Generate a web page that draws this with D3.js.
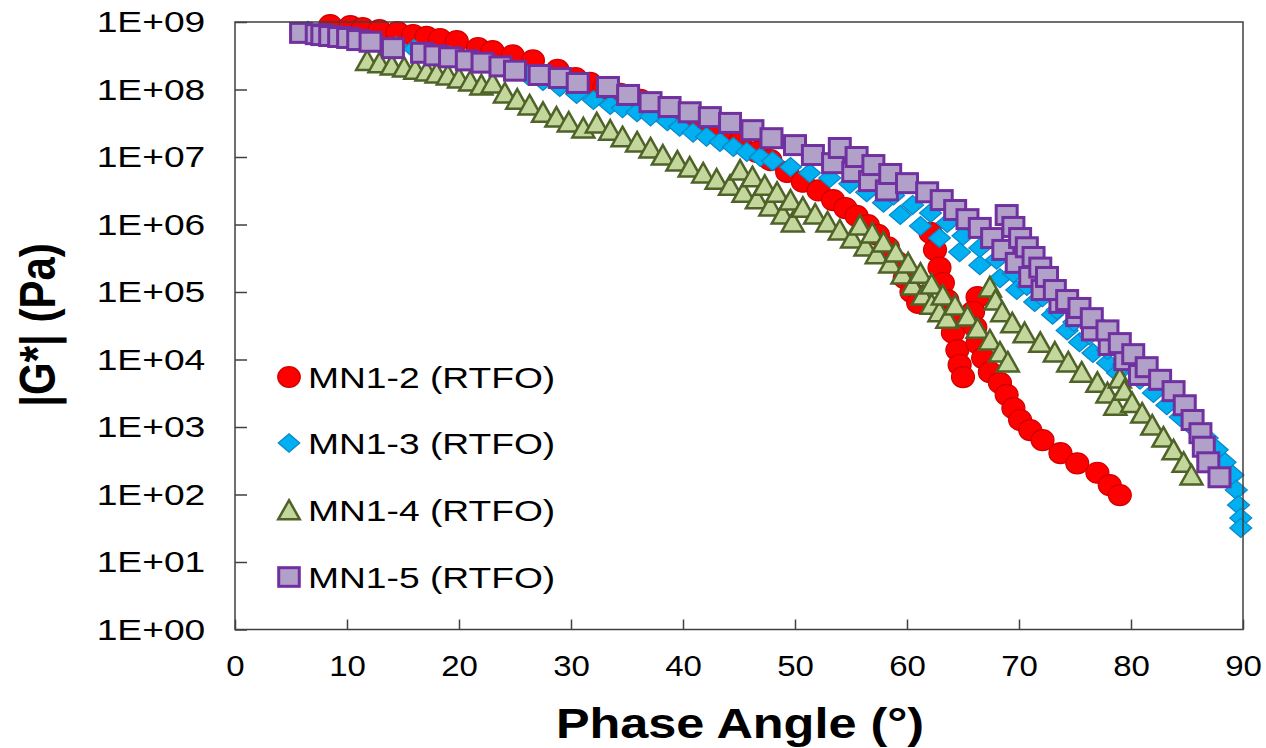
<!DOCTYPE html>
<html>
<head>
<meta charset="utf-8">
<script src="https://cdn.jsdelivr.net/npm/d3@7"></script>
<style>
  html, body { margin: 0; padding: 0; background: #ffffff; }
  svg { display: block; }
  text { font-family: "Liberation Sans", Arial, sans-serif; fill: #000; }
</style>
</head>
<body>
<svg id="chart" width="1266" height="748"></svg>
<script>
// Phase angle (degrees) and |G*| (Pa) pairs, one array per binder
const mn12Points = [
  [8.5,9.0e8],[10.3,8.7e8],[11.4,8.1e8],[12.9,7.6e8],[14.5,7.1e8],[15.9,6.4e8],[17.1,6.0e8],[18.3,5.6e8],
  [19.8,5.2e8],[21.7,4.1e8],[23.0,3.7e8],[24.8,3.2e8],[26.6,2.7e8],[28.8,1.95e8],[30.4,1.48e8],[31.7,1.25e8],
  [33.0,1.05e8],[34.4,8.6e7],[36.2,7.0e7],[37.9,5.3e7],[39.7,4.0e7],[41.5,3.1e7],[43.3,2.3e7],[45.1,1.67e7],
  [46.6,1.19e7],[47.8,9.0e6],[49.3,6.0e6],[50.7,4.3e6],[52.1,3.2e6],[53.4,2.3e6],[54.5,1.75e6],[55.5,1.34e6],
  [56.5,9.8e5],[57.4,7.0e5],[58.3,4.6e5],[59.1,2.8e5],[59.8,1.6e5],[60.4,1.0e5],[61.0,6.9e4],
  [62.1,7.5e5],[62.5,4.2e5],[62.9,2.3e5],[63.2,1.36e5],[63.6,7.6e4],[63.8,4.3e4],[64.1,2.5e4],[64.5,1.38e4],
  [64.7,8.3e3],[65.0,5.5e3],
  [66.3,8.4e4],[65.9,5.1e4],[66.1,3.0e4],[66.3,1.75e4],[66.8,1.05e4],[67.4,6.5e3],[68.3,4.5e3],[68.9,3.0e3],
  [69.5,1.9e3],[70.1,1.27e3],[71.0,9.0e2],[72.1,6.4e2],[73.7,4.1e2],[75.2,2.9e2],[77.0,2.1e2],[78.1,1.38e2],[79.0,98]
];

const mn13Points = [
  [6.5,7.4e8],[8.0,6.6e8],[9.6,6.0e8],[11.2,5.4e8],[12.8,4.9e8],[14.4,4.4e8],[16.0,4.0e8],[17.6,3.6e8],
  [19.2,3.2e8],[20.8,2.8e8],[22.4,2.5e8],[23.9,2.15e8],[25.3,1.88e8],[26.1,1.64e8],[27.5,1.34e8],[29.0,1.09e8],
  [30.5,8.6e7],[32.0,7.0e7],[33.5,5.9e7],[34.6,5.3e7],[35.9,4.6e7],[37.1,4.0e7],[38.6,3.4e7],[39.7,2.8e7],
  [40.9,2.3e7],[42.1,2.0e7],[43.3,1.67e7],[44.5,1.41e7],[45.7,1.19e7],[46.9,1.0e7],[48.0,8.7e6],[49.6,7.1e6],
  [51.3,5.8e6],[53.1,4.9e6],[54.9,4.0e6],[56.4,3.0e6],[57.9,2.1e6],[59.4,1.38e6],[61.2,9.5e5],[62.9,6.3e5],
  [64.7,3.9e5],[66.5,2.5e5],[68.3,1.6e5],[69.8,1.07e5],[71.4,7.1e4],[73.0,4.6e4],[74.3,2.7e4],[75.4,1.8e4],
  [76.6,1.25e4],[77.9,8.9e3],[78.8,6.3e3],
  [58.8,2.7e6],[60.5,1.95e6],[62.1,1.48e6],[63.6,1.05e6],[65.0,6.8e5],[66.5,4.5e5],[68.0,3.0e5],[69.5,1.9e5],
  [70.7,1.23e5],[72.1,8.4e4],[73.4,5.4e4],[74.9,3.6e4],[76.3,2.3e4],[77.9,1.38e4],[79.3,8.3e3],[80.8,5.0e3],
  [82.0,3.2e3],[83.2,2.1e3],[84.4,1.41e3],[85.5,1.0e3],[86.8,6.9e2],[87.7,4.6e2],[88.4,3.0e2],[89.1,1.95e2],
  [89.4,1.17e2],[89.6,70],[89.8,45],[89.8,32]
];

const mn14Points = [
  [11.8,2.7e8],[12.9,2.5e8],[14.0,2.3e8],[15.1,2.15e8],[16.1,2.0e8],[17.1,1.88e8],[18.0,1.75e8],[19.0,1.64e8],
  [20.0,1.48e8],[21.0,1.34e8],[22.0,1.17e8],
  [23.0,1.25e8],[24.1,8.9e7],[25.2,7.2e7],[26.3,5.9e7],[27.5,4.6e7],[28.7,3.9e7],[29.8,3.3e7],[31.1,2.7e7],
  [32.3,3.2e7],[33.5,2.5e7],[34.6,2.0e7],[35.9,1.67e7],[37.1,1.36e7],[38.2,1.07e7],[39.5,8.7e6],[40.6,7.1e6],
  [41.8,5.8e6],[43.0,4.7e6],[44.2,3.8e6],[45.4,3.0e6],[46.6,2.4e6],[47.8,1.88e6],[48.9,1.43e6],[49.8,1.09e6],
  [45.1,6.4e6],[46.2,5.1e6],[47.3,3.8e6],[48.4,3.0e6],[49.6,2.3e6],[50.7,1.8e6],[51.8,1.43e6],[52.9,1.09e6],
  [54.0,8.3e5],[55.1,6.3e5],[56.3,4.8e5],[57.3,3.7e5],[58.5,2.7e5],[59.6,1.85e5],[60.5,1.27e5],[61.4,9.0e4],
  [62.2,6.6e4],[62.9,5.1e4],[63.6,4.1e4],
  [55.8,9.8e5],[56.9,7.5e5],[57.9,5.5e5],[59.0,3.9e5],[60.1,2.7e5],[61.2,1.9e5],[62.2,1.31e5],[63.2,9.0e4],
  [64.3,6.4e4],[65.4,4.4e4],[66.3,2.9e4],[67.4,1.95e4],[68.3,1.29e4],[69.0,9.2e3],
  [67.4,1.19e5],[67.9,7.6e4],[68.5,5.1e4],[69.4,3.5e4],[70.5,2.5e4],[71.9,1.8e4],[73.2,1.29e4],[74.4,9.2e3],
  [75.6,6.5e3],[77.0,4.6e3],[77.9,3.2e3],[78.6,2.1e3],
  [79.0,5.3e3],[79.4,3.5e3],[80.1,2.3e3],[81.0,1.61e3],[81.9,1.07e3],[82.9,7.1e2],[83.8,4.6e2],[84.7,3.0e2],
  [85.4,1.95e2]
];

const mn15Points = [
  [5.9,6.9e8],[7.3,6.6e8],[7.8,6.4e8],[8.5,6.2e8],[9.3,6.0e8],[10.1,5.8e8],[11.0,5.4e8],[12.1,5.1e8],
  [14.1,4.1e8],[16.7,3.5e8],[17.9,3.2e8],[19.2,3.0e8],[20.7,2.7e8],[22.1,2.5e8],[23.7,2.2e8],[25.0,1.9e8],
  [27.2,1.64e8],[29.0,1.48e8],[30.6,1.25e8],
  [33.3,1.09e8],[35.1,8.3e7],[37.1,6.5e7],[38.8,5.5e7],[40.6,4.6e7],[42.4,3.9e7],[44.2,3.2e7],[46.2,2.5e7],
  [47.9,1.9e7],[50.0,1.5e7],[51.6,1.07e7],[53.4,8.1e6],[55.2,6.0e6],[56.7,4.4e6],[58.2,3.2e6],
  [54.0,1.36e7],[55.5,1.0e7],[57.0,7.6e6],[58.5,5.6e6],[60.0,4.1e6],[61.8,3.0e6],[63.1,2.3e6],[64.3,1.64e6],
  [65.4,1.2e6],[66.5,8.9e5],[67.6,6.3e5],[68.6,4.2e5],[69.8,2.7e5],[71.0,1.67e5],[72.1,1.07e5],[73.7,6.9e4],
  [75.2,4.4e4],[76.6,2.7e4],[78.1,1.64e4],[79.5,9.8e3],[80.8,5.9e3],
  [68.9,1.38e6],[69.5,9.2e5],[70.1,6.3e5],[70.7,4.6e5],[71.3,3.3e5],[71.9,2.3e5],[72.5,1.67e5],[73.2,1.07e5],
  [74.3,7.6e4],[75.4,5.8e4],[76.5,4.1e4],[77.9,2.7e4],[79.0,1.75e4],[80.2,1.2e4],[81.4,7.7e3],[82.6,5.0e3],
  [83.8,3.4e3],[84.8,2.1e3],[85.5,1.27e3],[86.2,8.1e2],[86.5,5.1e2],[86.9,3.0e2],[87.9,1.8e2]
];

const seriesNames = ["MN1-2 (RTFO)", "MN1-3 (RTFO)", "MN1-4 (RTFO)", "MN1-5 (RTFO)"];
const angleTicks = [0, 10, 20, 30, 40, 50, 60, 70, 80, 90];
const modulusTicks = [1e0, 1e1, 1e2, 1e3, 1e4, 1e5, 1e6, 1e7, 1e8, 1e9];
const xTitle = "Phase Angle (°)";
const yTitle = "|G*| (Pa)";

// ---- layout ----
const plot = { left: 235, right: 1243, top: 22, bottom: 629.5 };
const stretch = 1.2;     // titles are drawn slightly wide
const labelStretch = 1.24; // y tick labels and legend entries
const xLabelStretch = 1.1;

const svg = d3.select("#chart");
const x = d3.scaleLinear().domain([0, 90]).range([plot.left, plot.right]);
const y = d3.scaleLog().domain([1, 1e9]).range([plot.bottom, plot.top]);

const fmtE = d => "1E+" + String(Math.round(Math.log10(d))).padStart(2, "0");

// marker drawers, one per series
const markerStyles = [
  { fill: "#FF0000", stroke: "#D00000", width: 1.2,
    draw: (g, s) => g.append("ellipse").attr("rx", 11.5 * s).attr("ry", 10.5 * s) },
  { fill: "#00B0F0", stroke: "#0A86C8", width: 1.2,
    draw: (g, s) => g.append("path").attr("d", `M0,${-9.5 * s}L${11 * s},0L0,${9.5 * s}L${-11 * s},0Z`) },
  { fill: "#C3D69B", stroke: "#4F6228", width: 2.5,
    draw: (g, s) => g.append("path").attr("d", `M0,${-10 * s}L${11 * s},${9.5 * s}L${-11 * s},${9.5 * s}Z`) },
  { fill: "#B1A0C7", stroke: "#7030A0", width: 3,
    draw: (g, s) => g.append("rect").attr("x", -10.5 * s).attr("y", -9.5 * s)
                      .attr("width", 21 * s).attr("height", 19 * s) }
];

// ---- axes ----
const yAxis = svg.append("g")
  .attr("transform", `translate(${plot.left},0)`)
  .call(d3.axisLeft(y).tickValues(modulusTicks).tickFormat(fmtE)
          .tickSizeInner(-12).tickSizeOuter(0).tickPadding(24));
yAxis.select(".domain").remove();
yAxis.selectAll(".tick line").attr("stroke", "#404040").attr("stroke-width", 1.5);
yAxis.selectAll(".tick text")
  .attr("font-size", 30).attr("font-family", "Liberation Sans, Arial, sans-serif")
  .attr("fill", "#000").attr("transform", `scale(${labelStretch},1)`);

const xAxis = svg.append("g")
  .attr("transform", `translate(0,${plot.bottom})`)
  .call(d3.axisBottom(x).tickValues(angleTicks).tickFormat(d3.format("d"))
          .tickSizeInner(-10).tickSizeOuter(0).tickPadding(25));
xAxis.select(".domain").remove();
xAxis.selectAll(".tick line").attr("stroke", "#404040").attr("stroke-width", 1.5);
xAxis.selectAll(".tick text")
  .attr("font-size", 30).attr("font-family", "Liberation Sans, Arial, sans-serif")
  .attr("fill", "#000").attr("transform", `scale(${xLabelStretch},1)`);

// ---- data markers ----
const allSeries = [mn12Points, mn13Points, mn14Points, mn15Points];
allSeries.forEach((pts, i) => {
  const st = markerStyles[i];
  const g = svg.append("g").attr("class", "series-" + i);
  pts.forEach(([a, gm]) => {
    const m = g.append("g").attr("transform", `translate(${x(a)},${y(gm)})`);
    st.draw(m, 1).attr("fill", st.fill).attr("stroke", st.stroke).attr("stroke-width", st.width);
  });
});

// ---- plot frame ----
svg.append("rect")
  .attr("x", plot.left).attr("y", plot.top)
  .attr("width", plot.right - plot.left).attr("height", plot.bottom - plot.top)
  .attr("fill", "none").attr("stroke", "#404040").attr("stroke-width", 1.5);

// ---- legend ----
const legendRows = [377, 443, 510, 577];
seriesNames.forEach((name, i) => {
  const st = markerStyles[i];
  const m = svg.append("g").attr("transform", `translate(289,${legendRows[i]})`);
  st.draw(m, 0.98).attr("fill", st.fill).attr("stroke", st.stroke).attr("stroke-width", st.width);
  svg.append("text")
    .attr("transform", `translate(308,${legendRows[i] + 11}) scale(${labelStretch},1)`)
    .attr("font-size", 30)
    .text(name);
});

// ---- axis titles ----
svg.append("text")
  .attr("transform", `translate(740,738) scale(${stretch},1)`)
  .attr("text-anchor", "middle").attr("font-size", 42).attr("font-weight", "bold")
  .text(xTitle);

svg.append("text")
  .attr("transform", `translate(55,325) scale(${stretch},1) rotate(-90)`)
  .attr("text-anchor", "middle").attr("font-size", 42).attr("font-weight", "bold")
  .text(yTitle);
</script>
</body>
</html>
